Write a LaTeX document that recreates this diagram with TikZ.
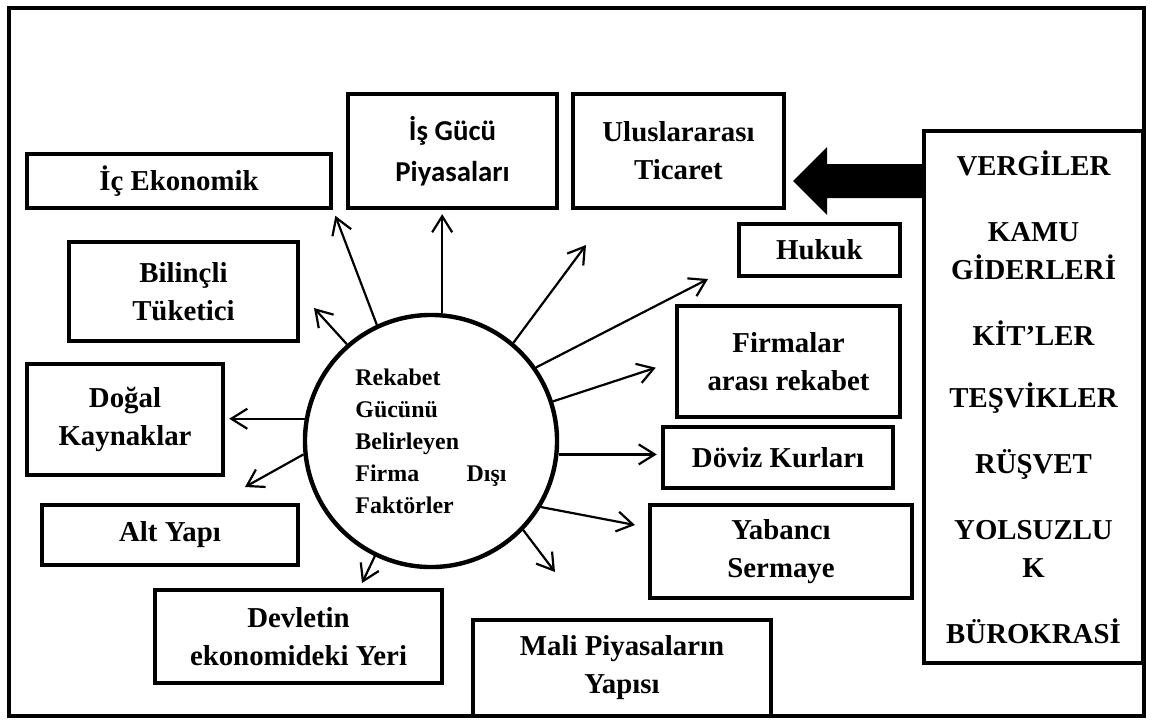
\documentclass[tikz,border=0pt]{standalone}
\usepackage{fontspec}
\setmainfont{Liberation Serif}
\newfontfamily\calfont{Carlito}
\usepackage{tikz}
\usetikzlibrary{arrows.meta,positioning,calc}

\begin{document}
\begin{tikzpicture}[x=0.025cm,y=-0.025cm,
  font=\bfseries\fontsize{20.5}{27}\selectfont,
  box/.style={draw,line width=1.1mm,align=center,inner sep=0pt},
  arr/.style={line width=0.55mm,-{Straight Barb[length=4mm,width=5mm]}}]
\useasboundingbox (0,0) rectangle (1150,724);
% --- frame ---
\draw[line width=1mm] (9,8) rectangle (1144,716);
% --- boxes ---
\node[box,minimum width=7.6cm,minimum height=1.35cm] (ic) at (179,181) {İç Ekonomik};
\node[box,minimum width=5.225cm,minimum height=2.85cm,
  font=\calfont\bfseries\fontsize{20.5}{29}\selectfont] (is) at (452.5,151) {İş Gücü\\Piyasaları};
\node[box,minimum width=5.275cm,minimum height=2.85cm] (ut) at (678.5,151) {Uluslararası\\Ticaret};
\node[box,minimum width=4.025cm,minimum height=1.3cm] (hk) at (819.5,250) {Hukuk};
\node[box,minimum width=5.575cm,minimum height=2.775cm] (fr) at (788.5,361.5) {Firmalar\\arası rekabet};
\node[box,minimum width=5.75cm,minimum height=1.525cm] (dk) at (778,457.5) {Döviz Kurları};
\node[box,minimum width=6.55cm,minimum height=2.325cm] (ys) at (781,551.5) {Yabancı\\Sermaye};
\node[box,minimum width=7.45cm,minimum height=2.4cm] (mp) at (622,668) {Mali Piyasaların\\Yapısı};
\node[box,minimum width=5.725cm,minimum height=2.475cm] (bt) at (183.5,291.5) {Bilinçli\\Tüketici};
\node[box,minimum width=4.9cm,minimum height=2.775cm] (dg) at (125,419.5) {Doğal\\Kaynaklar};
\node[box,minimum width=6.4cm,minimum height=1.5cm] (ay) at (170,535) {Alt Yapı};
\node[box,minimum width=7.175cm,minimum height=2.325cm] (dv) at (298.5,636.5) {Devletin\\ekonomideki Yeri};
\node[box,minimum width=5.475cm,minimum height=13.3cm] (vg) at (1033.5,397)
  {VERGİLER\\[7mm]KAMU\\GİDERLERİ\\[7mm]KİT’LER\\[6mm]TEŞVİKLER\\[7mm]RÜŞVET\\[7mm]YOLSUZLU\\K\\[7mm]BÜROKRASİ};
% --- centre ---
\node[circle,draw,line width=1.1mm,minimum size=6.3cm,inner sep=0pt,align=left,
  font=\bfseries\fontsize{17}{22.7}\selectfont] (c) at (431,441)
  {Rekabet\\Gücünü\\Belirleyen\\\makebox[3.775cm][s]{Firma\hfill Dışı}\\Faktörler};
% --- free arrow ends ---
\coordinate (u3) at (586,245);
\coordinate (u4) at (708,279);
\coordinate (u7) at (635,525);
\coordinate (u8) at (555,572);
\coordinate (u9) at (362,583);
\coordinate (u10) at (245,487);
\coordinate (u12) at (314,308);
% --- arrows ---
\draw[arr,shorten >=1.5mm] (c.115) -- (ic.south east);
\draw[arr,shorten >=1mm] (c.85) -- (c.85 |- is.south);
\draw[arr] (c.50) -- (u3);
\draw[arr] (c.35) -- (u4);
\draw[arr,shorten >=5mm] (c.18) -- (fr.west);
\draw[arr,shorten >=1mm] (c.-6) -- (c.-6 -| dk.west);
\draw[arr] (c.-31) -- (u7);
\draw[arr] (c.-44) -- (u8);
\draw[arr] (c.-116) -- (u9);
\draw[arr] (c.-174) -- (u10);
\draw[arr,shorten >=1mm] (c.170) -- (c.170 -| dg.east);
\draw[arr] (c.131) -- (u12);
% --- block arrow ---
\fill (vg.west |- 0,164) -- (827,164) -- (827,147) -- (793,181) -- (827,215)
  -- (827,198) -- (vg.west |- 0,198) -- cycle;
\end{tikzpicture}
\end{document}
